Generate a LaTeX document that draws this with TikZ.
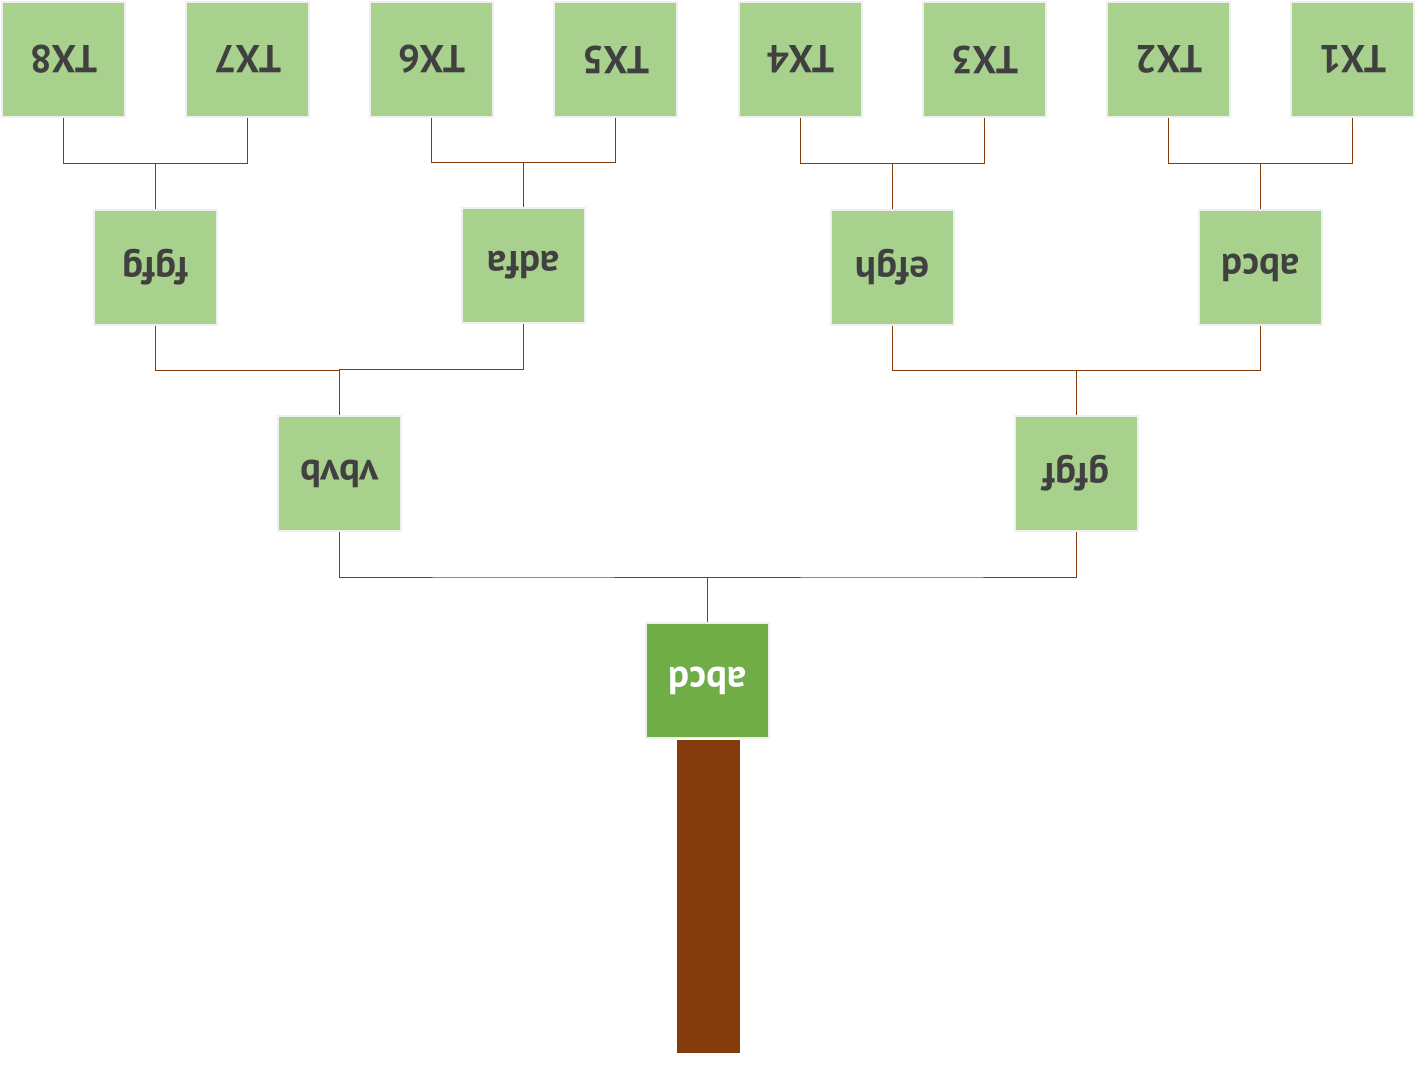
\documentclass[tikz,border=0pt]{standalone}
\usepackage{fontspec}
\setmainfont{PT Sans}
\usetikzlibrary{calc}
\definecolor{leaf}{HTML}{A9D18E}
\definecolor{rootc}{HTML}{70AD47}
\definecolor{trunk}{HTML}{843C0C}
\definecolor{edgec}{HTML}{EFEFEF}
\definecolor{txt}{HTML}{404040}
\tikzset{
  box/.style={draw=edgec, line width=2pt, fill=leaf, minimum width=123pt, minimum height=115pt,
    inner sep=0pt, rotate=180, text=txt, font=\fontsize{39}{39}\selectfont\bfseries},
  rootbox/.style={box, fill=rootc, text=white},
  link/.style={draw=trunk, line width=1pt},
}
\newcommand{\elbow}[2]{\draw[link] (#1.north) |- ($(#1.north)!0.5!(#2.south)$) -| (#2.south);}
\begin{document}
\begin{tikzpicture}[x=1pt,y=-1pt]
\useasboundingbox (0,0) rectangle (1416,1086);
% top row
\node[box] (t8) at (63.5,59.5) {TX8};
\node[box] (t7) at (247.5,59.5) {TX7};
\node[box] (t6) at (431.5,59.5) {TX6};
\node[box] (t5) at (615.5,59.5) {TX5};
\node[box] (t4) at (800.5,59.5) {TX4};
\node[box] (t3) at (984.5,59.5) {TX3};
\node[box] (t2) at (1168.5,59.5) {TX2};
\node[box] (t1) at (1352.5,59.5) {TX1};
% second row
\node[box] (fgfg) at (155.5,267.5) {fgfg};
\node[box] (adfa) at (523.5,265.5) {adfa};
\node[box] (efgh) at (892.5,267.5) {efgh};
\node[box] (abcd2) at (1260.5,267.5) {abcd};
% third row
\node[box] (vbvb) at (339.5,473.5) {vbvb};
\node[box] (gfgf) at (1076.5,473.5) {gfgf};
% root
\node[rootbox] (root) at (707.5,680.5) {abcd};
\fill[trunk] (677,740) rectangle (740,1053);
% connectors (nodes rotated: north is bottom)
\elbow{t8}{fgfg}
\elbow{t7}{fgfg}
\elbow{t6}{adfa}
\elbow{t5}{adfa}
\elbow{t4}{efgh}
\elbow{t3}{efgh}
\elbow{t2}{abcd2}
\elbow{t1}{abcd2}
\elbow{fgfg}{vbvb}
\elbow{adfa}{vbvb}
\elbow{efgh}{gfgf}
\elbow{abcd2}{gfgf}
\elbow{vbvb}{root}
\elbow{gfgf}{root}
\end{tikzpicture}
\end{document}
